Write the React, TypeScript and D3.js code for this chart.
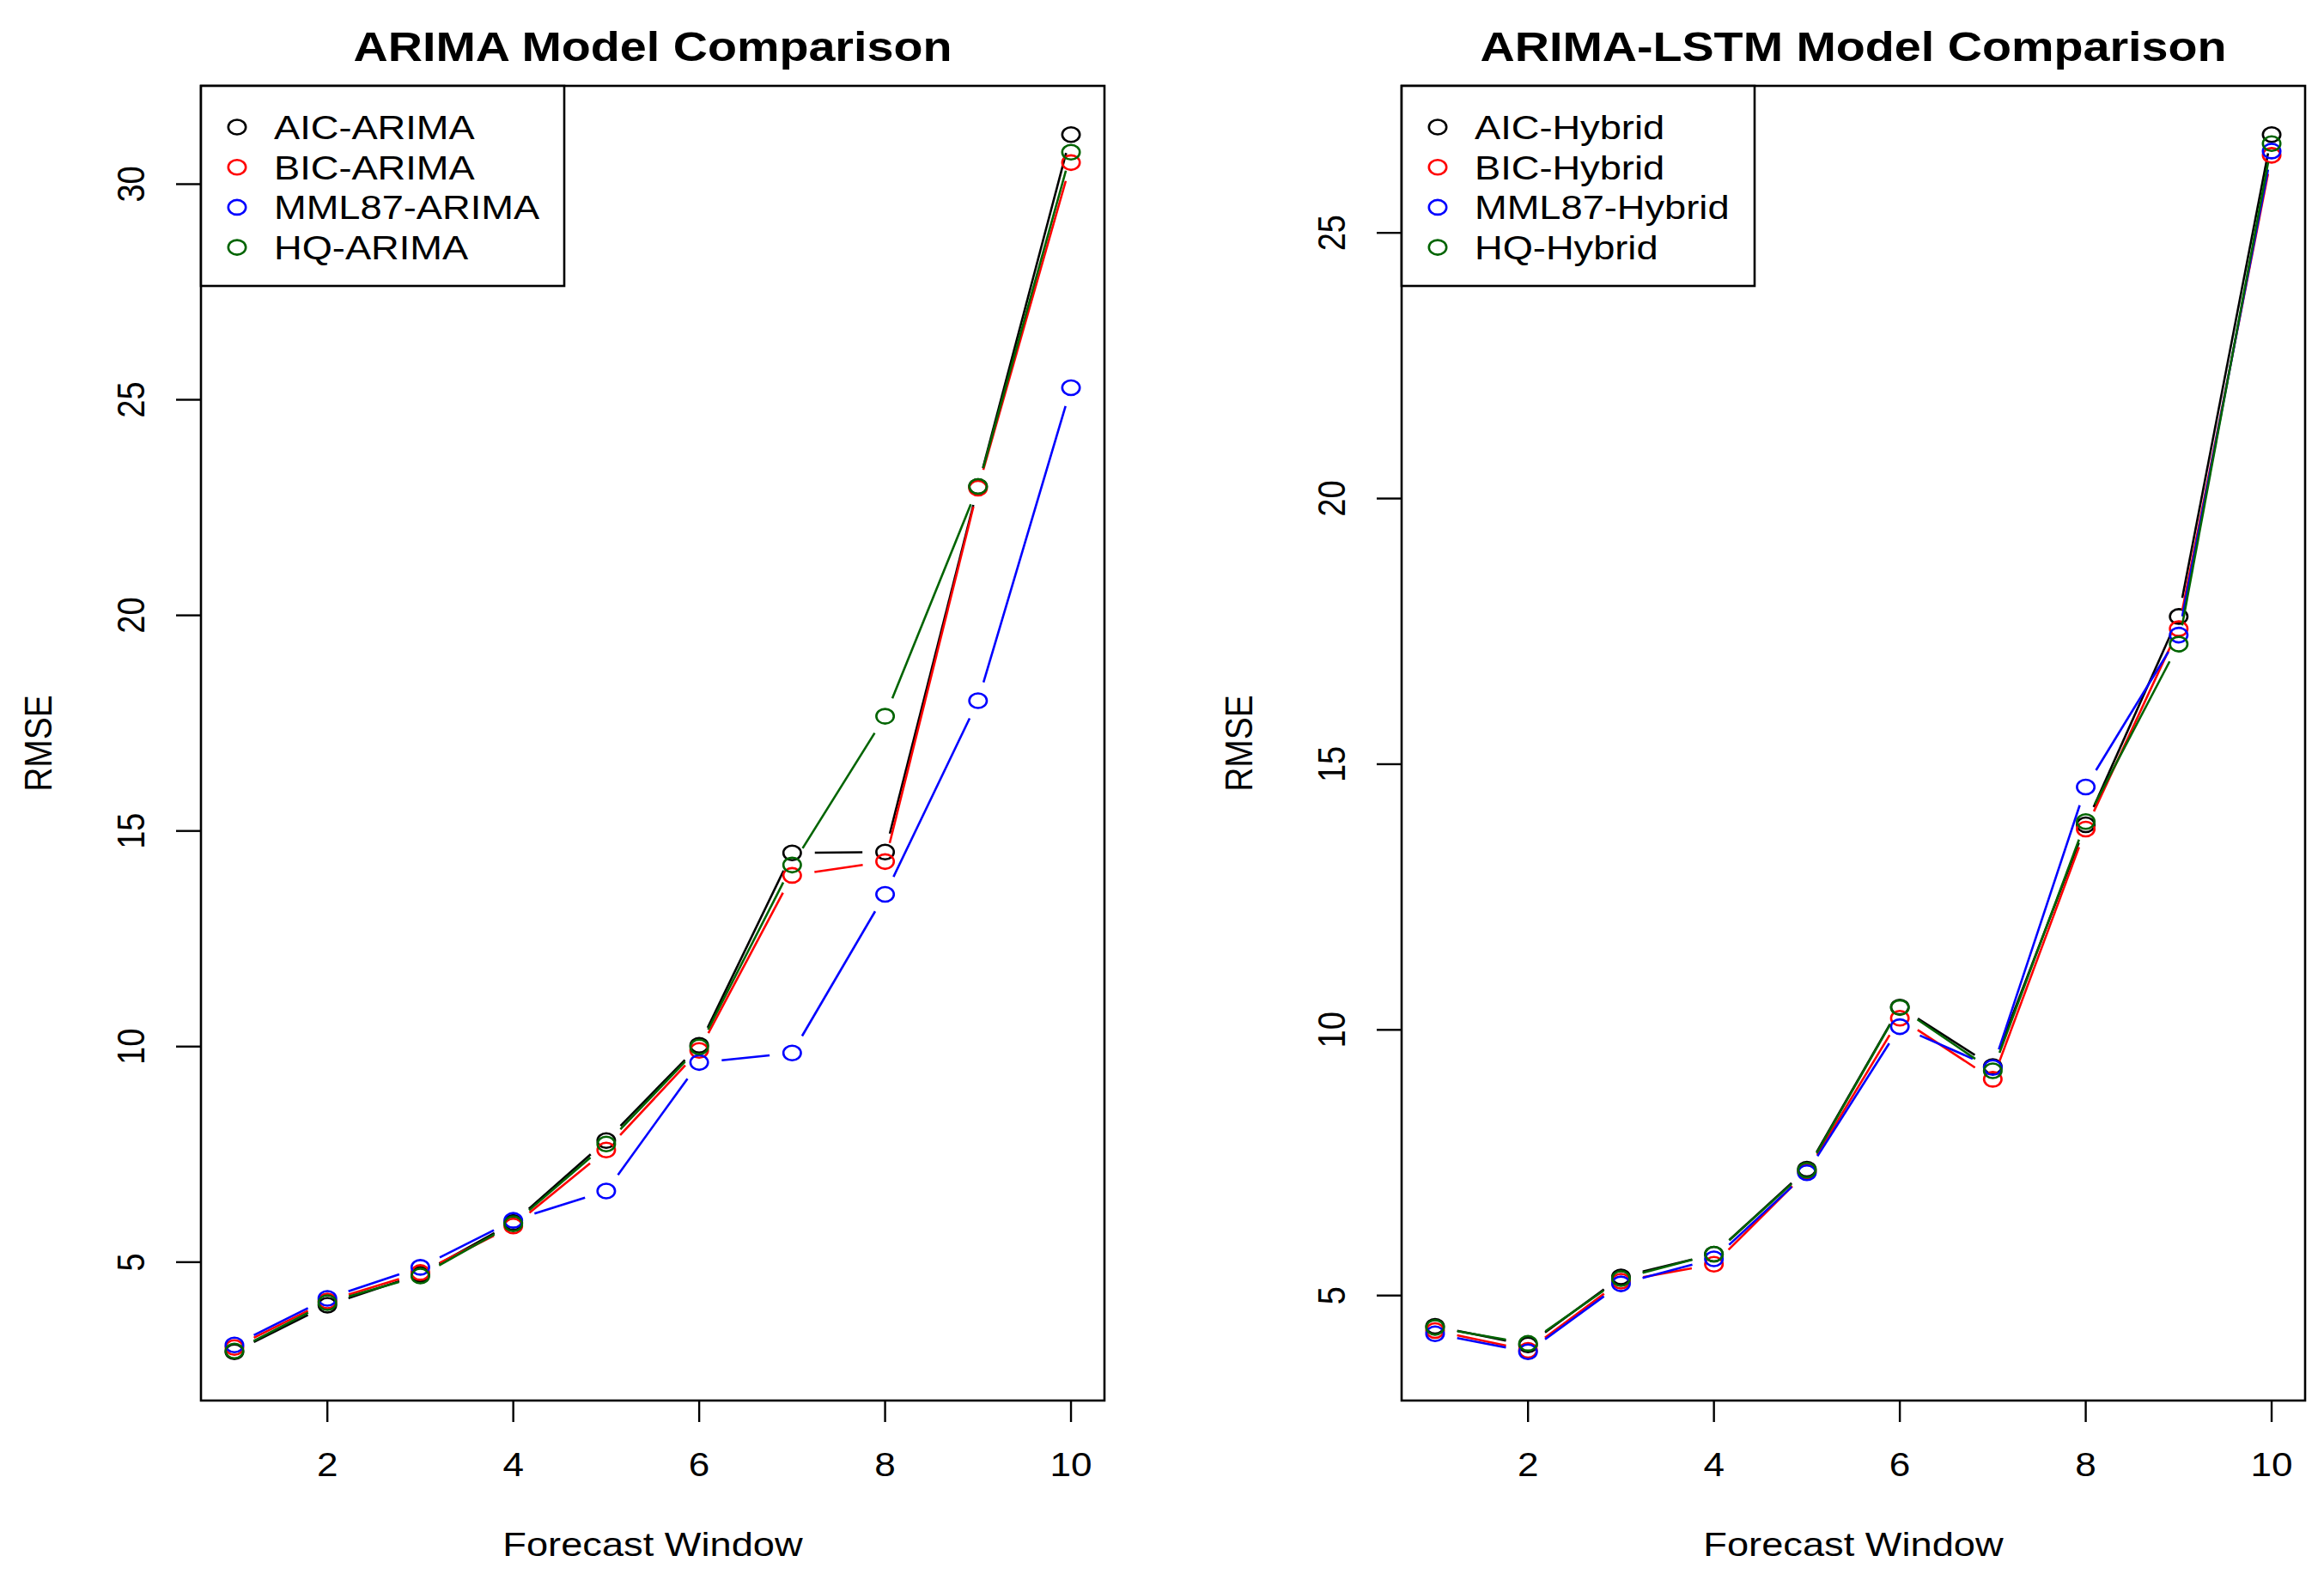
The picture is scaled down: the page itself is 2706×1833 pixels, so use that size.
import * as d3 from 'd3';

// forecast windows on the x axis
const windows = [1, 2, 3, 4, 5, 6, 7, 8, 9, 10];

// left panel: ARIMA models
const arimaLabels = ['AIC-ARIMA', 'BIC-ARIMA', 'MML87-ARIMA', 'HQ-ARIMA'];
const aicArima = [2.92, 4.0, 4.72, 5.92, 7.82, 10.03, 14.49, 14.51, 22.99, 31.15];
const bicArima = [3.02, 4.1, 4.76, 5.84, 7.6, 9.91, 13.97, 14.29, 22.95, 30.5];
const mmlArima = [3.08, 4.16, 4.88, 5.97, 6.65, 9.63, 9.85, 13.53, 18.02, 25.28];
const hqArima = [2.94, 4.06, 4.68, 5.89, 7.74, 9.99, 14.21, 17.66, 22.99, 30.74];

// right panel: ARIMA-LSTM hybrids
const hybridLabels = ['AIC-Hybrid', 'BIC-Hybrid', 'MML87-Hybrid', 'HQ-Hybrid'];
const aicHybrid = [4.42, 4.07, 5.35, 5.78, 7.38, 10.43, 9.31, 13.86, 17.78, 26.85];
const bicHybrid = [4.34, 3.97, 5.27, 5.59, 7.33, 10.22, 9.07, 13.78, 17.55, 26.46];
const mmlHybrid = [4.28, 3.94, 5.22, 5.69, 7.31, 10.06, 9.29, 14.57, 17.43, 26.54];
const hqHybrid = [4.4, 4.1, 5.32, 5.78, 7.36, 10.42, 9.23, 13.92, 17.26, 26.68];

const xTicks = [2, 4, 6, 8, 10];
const arimaYTicks = [5, 10, 15, 20, 25, 30];
const hybridYTicks = [5, 10, 15, 20, 25];

const seriesColors = ['#000000', '#ff0000', '#0000ff', '#006400'];

// the source image is stretched horizontally, so text and markers are too
const SX = 1.2;
const TX = 1.16;
const W = 2706;
const H = 1833;
const TOP = 100;
const BOTTOM = 1631;
const PANEL_W = 1052;
const FONT = '"Liberation Sans", Arial, Helvetica, sans-serif';
const RX = 10.2;
const RY = 8.5;

// R-style 4% axis expansion
const expand = (lo: number, hi: number): [number, number] => {
  const d = (hi - lo) * 0.04;
  return [lo - d, hi + d];
};

// shorten a segment at both ends like R's type = "b"
const gapSegment = (x1: number, y1: number, x2: number, y2: number, gap: number) => {
  const ux = (x2 - x1) / SX;
  const uy = y2 - y1;
  const len = Math.hypot(ux, uy);
  if (len <= gap * 2) return null;
  const fx = (ux / len) * gap * SX;
  const fy = (uy / len) * gap;
  return [x1 + fx, y1 + fy, x2 - fx, y2 - fy];
};

interface PanelProps {
  left: number;
  title: string;
  labels: string[];
  series: number[][];
  yTicks: number[];
  legendWidth: number;
}

function Panel({ left, title, labels, series, yTicks, legendWidth }: PanelProps) {
  const right = left + PANEL_W;
  const all = series.flat();
  const x = d3.scaleLinear().domain(expand(d3.min(windows)!, d3.max(windows)!)).range([left, right]);
  const y = d3.scaleLinear().domain(expand(d3.min(all)!, d3.max(all)!)).range([BOTTOM, TOP]);
  const cx = (left + right) / 2;
  const cy = (TOP + BOTTOM) / 2;

  return (
    <g>
      <text
        transform={`translate(${cx},71) scale(${TX},1)`}
        textAnchor="middle"
        fontFamily={FONT}
        fontWeight="bold"
        fontSize={48}
      >
        {title}
      </text>

      {/* series */}
      {series.map((vals, si) => (
        <g key={si} stroke={seriesColors[si]} fill="none" strokeWidth={2.6}>
          {vals.slice(1).map((v, i) => {
            const s = gapSegment(x(windows[i]), y(vals[i]), x(windows[i + 1]), y(v), 22);
            if (!s) return null;
            return <line key={i} x1={s[0]} y1={s[1]} x2={s[2]} y2={s[3]} />;
          })}
          {vals.map((v, i) => (
            <ellipse key={'p' + i} cx={x(windows[i])} cy={y(v)} rx={RX} ry={RY} />
          ))}
        </g>
      ))}

      {/* box */}
      <rect x={left} y={TOP} width={PANEL_W} height={BOTTOM - TOP} fill="none" stroke="#000" strokeWidth={2.6} />

      {/* x axis */}
      {xTicks.map((t) => (
        <g key={t}>
          <line x1={x(t)} x2={x(t)} y1={BOTTOM} y2={BOTTOM + 25} stroke="#000" strokeWidth={2.4} />
          <text
            transform={`translate(${x(t)},1719) scale(${TX},1)`}
            textAnchor="middle"
            fontFamily={FONT}
            fontSize={38}
          >
            {t}
          </text>
        </g>
      ))}
      <text
        transform={`translate(${cx},1812) scale(${TX},1)`}
        textAnchor="middle"
        fontFamily={FONT}
        fontSize={39}
      >
        Forecast Window
      </text>

      {/* y axis */}
      {yTicks.map((t) => (
        <g key={t}>
          <line x1={left - 29} x2={left} y1={y(t)} y2={y(t)} stroke="#000" strokeWidth={2.4} />
          <text
            transform={`translate(${left - 66},${y(t)}) scale(${TX},1) rotate(-90)`}
            textAnchor="middle"
            fontFamily={FONT}
            fontSize={38}
          >
            {t}
          </text>
        </g>
      ))}
      <text
        transform={`translate(${left - 174},${cy}) scale(${TX},1) rotate(-90)`}
        textAnchor="middle"
        fontFamily={FONT}
        fontSize={39}
      >
        RMSE
      </text>

      {/* legend */}
      <rect x={left} y={TOP} width={legendWidth} height={233} fill="#fff" stroke="#000" strokeWidth={2.6} />
      {labels.map((lab, i) => {
        const ly = 148 + i * 46.7;
        return (
          <g key={lab}>
            <ellipse cx={left + 42} cy={ly} rx={RX} ry={RY} fill="none" stroke={seriesColors[i]} strokeWidth={2.6} />
            <text
              transform={`translate(${left + 85},${ly + 14}) scale(${TX},1)`}
              fontFamily={FONT}
              fontSize={39}
            >
              {lab}
            </text>
          </g>
        );
      })}
    </g>
  );
}

export default function App() {
  return (
    <svg
      width={W}
      height={H}
      viewBox={`0 0 ${W} ${H}`}
      style={{ position: 'absolute', left: 0, top: 0, background: '#fff' }}
    >
      <rect width={W} height={H} fill="#fff" />
      <Panel
        left={234}
        title="ARIMA Model Comparison"
        labels={arimaLabels}
        series={[aicArima, bicArima, mmlArima, hqArima]}
        yTicks={arimaYTicks}
        legendWidth={423}
      />
      <Panel
        left={1632}
        title="ARIMA-LSTM Model Comparison"
        labels={hybridLabels}
        series={[aicHybrid, bicHybrid, mmlHybrid, hqHybrid]}
        yTicks={hybridYTicks}
        legendWidth={411}
      />
    </svg>
  );
}
